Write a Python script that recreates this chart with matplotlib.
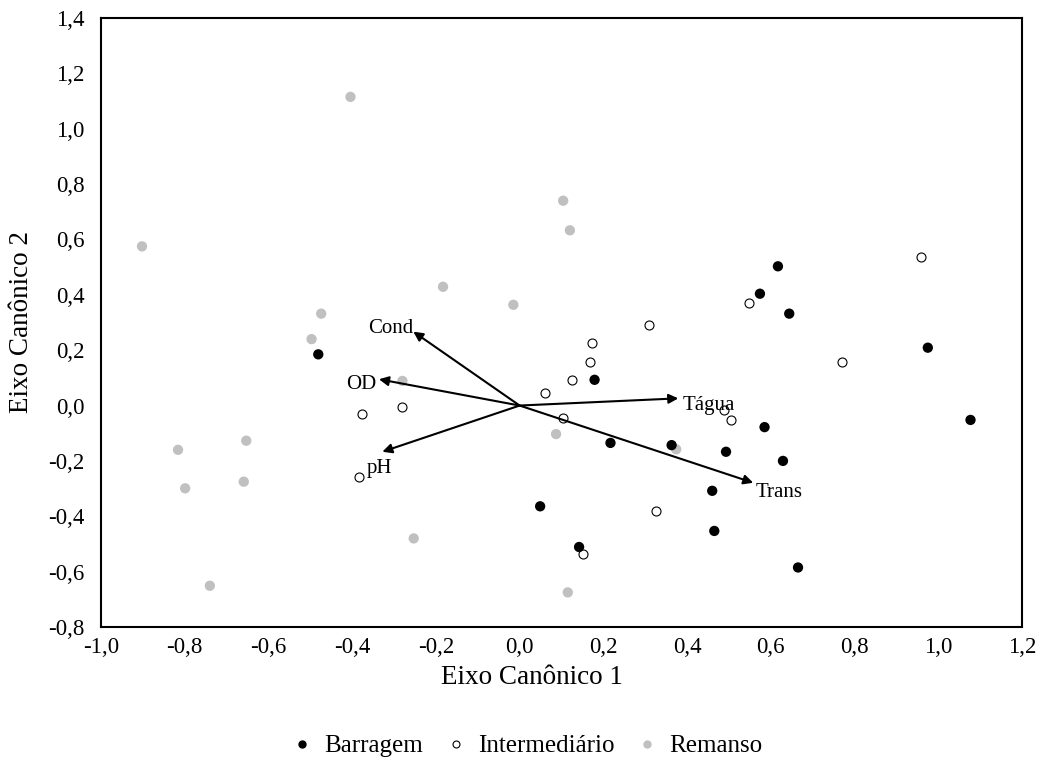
#!/usr/bin/env python3
"""Canonical ordination plot: sites by zone with environmental vectors."""

import matplotlib
matplotlib.use("Agg")
import matplotlib.pyplot as plt
from matplotlib.ticker import FuncFormatter, MultipleLocator
from matplotlib.lines import Line2D

# site scores per zone
barragem_x = [-0.481, 0.617, 0.574, 0.644, 0.179, 0.217, 0.363, 0.460, 0.049,
              0.465, 0.142, 0.975, 0.585, 0.493, 0.629, 0.665, 1.077]
barragem_y = [0.185, 0.503, 0.404, 0.332, 0.093, -0.135, -0.143, -0.308, -0.364,
              -0.453, -0.511, 0.209, -0.078, -0.167, -0.200, -0.585, -0.052]

intermediario_x = [0.958, 0.547, -0.281, -0.377, -0.383, 0.309, 0.174, 0.168,
                   0.125, 0.060, 0.103, 0.325, 0.152, 0.769, 0.504, 0.488]
intermediario_y = [0.535, 0.372, -0.004, -0.031, -0.257, 0.291, 0.225, 0.158,
                   0.093, 0.045, -0.044, -0.380, -0.535, 0.158, -0.052, -0.015]

remanso_x = [-0.404, -0.902, -0.474, 0.104, 0.120, -0.183, -0.015, -0.497, -0.280,
             -0.653, -0.816, -0.659, -0.799, -0.253, -0.740, 0.087, 0.374, 0.115]
remanso_y = [1.115, 0.575, 0.332, 0.740, 0.633, 0.429, 0.364, 0.240, 0.089,
             -0.127, -0.160, -0.275, -0.299, -0.480, -0.651, -0.103, -0.158, -0.675]

# environmental vectors
vec_names = ["Cond", "OD", "pH", "Tágua", "Trans"]
vec_x = [-0.254, -0.336, -0.328, 0.379, 0.558]
vec_y = [0.267, 0.095, -0.167, 0.026, -0.279]

zone_names = ["Barragem", "Intermediário", "Remanso"]
gray = "#c0c0c0"


def comma(v, pos):
    return f"{v:.1f}".replace(".", ",")


def main():
    plt.rcParams["font.family"] = ["Liberation Serif", "DejaVu Serif"]

    fig = plt.figure(figsize=(10.43, 7.63), dpi=100)
    ax = fig.add_axes([101 / 1043, 1 - 627 / 763, 921 / 1043, 609 / 763])

    ax.scatter(remanso_x, remanso_y, s=55, color=gray, edgecolors="none", zorder=2)
    ax.scatter(intermediario_x, intermediario_y, s=42, facecolors="white",
               edgecolors="black", linewidths=0.8, zorder=3)
    ax.scatter(barragem_x, barragem_y, s=55, color="black", edgecolors="none", zorder=3)

    # label offsets (points) relative to the arrow tips
    offsets = {"Cond": (0, 2, "right", "center"),
               "OD": (-2, -4, "right", "center"),
               "pH": (-2, -12, "center", "center"),
               "Tágua": (3, -5, "left", "center"),
               "Trans": (2, -7, "left", "center")}
    for name, vx, vy in zip(vec_names, vec_x, vec_y):
        ax.annotate("", xy=(vx, vy), xytext=(0, 0),
                    arrowprops=dict(arrowstyle="-|>", color="black", lw=1.5,
                                    mutation_scale=14, shrinkA=0, shrinkB=0),
                    zorder=4)
        dx, dy, ha, va = offsets[name]
        ax.annotate(name, xy=(vx, vy), xytext=(dx, dy), textcoords="offset points",
                    ha=ha, va=va, fontsize=15, zorder=5)

    ax.set_xlim(-1.0, 1.2)
    ax.set_ylim(-0.8, 1.4)
    ax.xaxis.set_major_locator(MultipleLocator(0.2))
    ax.yaxis.set_major_locator(MultipleLocator(0.2))
    ax.xaxis.set_major_formatter(FuncFormatter(comma))
    ax.yaxis.set_major_formatter(FuncFormatter(comma))
    ax.tick_params(length=0, labelsize=16.5)
    ax.tick_params(axis="y", pad=12)
    ax.tick_params(axis="x", pad=7)
    for sp in ax.spines.values():
        sp.set_linewidth(1.5)

    fig.text(532 / 1043, 1 - 677 / 763, "Eixo Canônico 1", ha="center", va="center",
             fontsize=19.5)
    fig.text(22 / 1043, 1 - 322 / 763, "Eixo Canônico 2", ha="center", va="center",
             rotation=90, fontsize=19.5)

    handles = [
        Line2D([], [], linestyle="none", marker="o", markersize=5,
               markerfacecolor="black", markeredgecolor="black"),
        Line2D([], [], linestyle="none", marker="o", markersize=5,
               markerfacecolor="white", markeredgecolor="black", markeredgewidth=0.8),
        Line2D([], [], linestyle="none", marker="o", markersize=5,
               markerfacecolor=gray, markeredgecolor=gray),
    ]
    fig.legend(handles, zone_names, loc="center", bbox_to_anchor=(526 / 1043, 1 - 746 / 763),
               ncol=3, frameon=False, fontsize=18, handletextpad=0.4,
               columnspacing=0.8, handlelength=1.0)

    fig.savefig("out.png", dpi=100)


if __name__ == "__main__":
    main()
